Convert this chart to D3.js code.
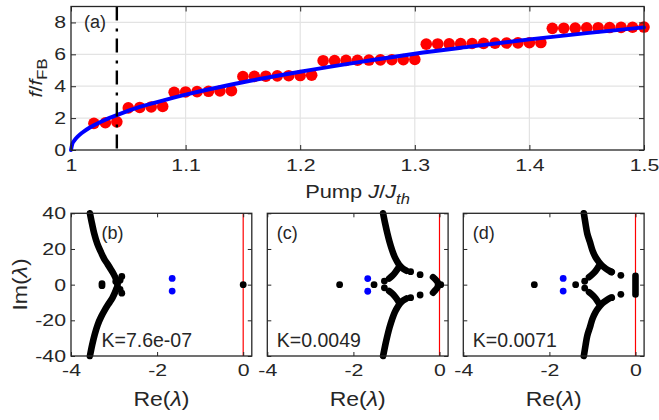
<!DOCTYPE html>
<html><head><meta charset="utf-8">
<script src="https://cdn.jsdelivr.net/npm/d3@7"></script>
<style>body{margin:0;background:#fff} text{font-family:"Liberation Sans",Arial,Helvetica,sans-serif;fill:#262626}</style>
</head><body><svg id="c" width="659" height="420"></svg>
<script>
// ---------- data: panel (a) ----------
const pumpJ = [1.02,1.03,1.04, 1.05,1.06,1.07,1.08, 1.09,1.10,1.11,1.12,1.13,1.14,
  1.15,1.16,1.17,1.18,1.19,1.20,1.21, 1.22,1.23,1.24,1.25,1.26,1.27,1.28,1.29,1.30,
  1.31,1.32,1.33,1.34,1.35,1.36,1.37,1.38,1.39,1.40,1.41, 1.42,1.43,1.44,1.45,1.46,1.47,1.48,1.49,1.50];
const ratioRed = [1.67,1.71,1.77, 2.64,2.67,2.70,2.73, 3.62,3.64,3.66,3.68,3.70,3.72,
  4.61,4.62,4.63,4.65,4.66,4.67,4.69, 5.60,5.61,5.62,5.63,5.64,5.65,5.66,5.67,5.68,
  6.64,6.65,6.66,6.67,6.68,6.69,6.70,6.71,6.72,6.73,6.74, 7.63,7.64,7.65,7.66,7.67,7.68,7.69,7.70,7.71];
const fitJ = [1.0,1.001,1.003,1.006,1.01,1.02,1.03,1.04,1.06,1.08,1.10,1.15,1.20,1.25,1.30,1.35,1.40,1.45,1.50];
const fitRatio = [0,0.35,0.6,0.85,1.1,1.55,1.9,2.19,2.7,3.1,3.47,4.25,4.91,5.5,6.04,6.5,6.94,7.33,7.69];
const markerJ = 1.04;
const pumpTicks = [1,1.1,1.2,1.3,1.4,1.5];
const pumpTickLabels = ["1","1.1","1.2","1.3","1.4","1.5"];
const ratioTicks = [0,2,4,6,8];

// ---------- data: eigenvalue panels (b),(c),(d) ----------
const reTicks = [-4,-2,0];
const reTickLabels = ["-4","-2","0"];
const imTicks = [-40,-20,0,20,40];
const imTickLabels = ["-40","-20","0","20","40"];
const panelNames = ["(b)","(c)","(d)"];
const kLabels = ["K=7.6e-07","K=0.0049","K=0.0071"];

const bBranches = [
  [[-3.56,40],[-3.51,34],[-3.46,28.6],[-3.39,23],[-3.31,18.5],[-3.23,14.5],[-3.15,11.5],[-3.08,8.8],[-3.01,6],[-2.96,3.5]],
  [[-2.94,-2],[-2.98,-4.5],[-3.04,-7.5],[-3.12,-10.5],[-3.21,-14],[-3.30,-18],[-3.38,-22.5],[-3.45,-28],[-3.51,-34],[-3.56,-40]]
];
const bBlobs = [];
const bDots = [[-3.28,0.6],[-3.28,-0.6],[-2.82,4.6],[-2.86,2.4],[-2.92,0.9],[-2.96,1.8],[-2.82,-4.8],[-2.86,-2.6],[-2.92,-0.7],[0.0,0]];
const bBlue = [[-1.65,3.5],[-1.65,-3.6]];

const cBranches = [
  [[-1.31,40],[-1.26,34],[-1.21,28.7],[-1.16,24],[-1.10,19.3],[-1.04,15.5],[-0.98,12.8],[-0.92,10.6],[-0.85,9],[-0.77,7.8]],
  [[-0.95,9.5],[-1.03,6.8],[-1.10,4.9],[-1.17,3.4]],
  [[-1.31,-40],[-1.26,-34],[-1.21,-28.7],[-1.16,-24],[-1.10,-19.3],[-1.04,-15.5],[-0.98,-12.8],[-0.92,-10.6],[-0.85,-9],[-0.77,-7.8]],
  [[-0.95,-9.5],[-1.03,-6.8],[-1.10,-4.9],[-1.17,-3.6]]
];
const cBlobs = [[[-0.15,4.2],[-0.09,2.8],[-0.04,1.2],[-0.04,-1.2],[-0.09,-2.9],[-0.15,-4.5]]];
const cDots = [[-2.32,0],[-1.52,0],[-1.28,2.0],[-1.28,-1.8],[-0.45,5.6],[-0.45,-5.8],[-0.67,7.3],[-0.67,-7.3],[0.03,0]];
const cBlue = [[-1.667,3.4],[-1.667,-3.7]];

const dBranches = [
  [[-1.20,40],[-1.16,34],[-1.12,28.6],[-1.06,24],[-1.00,19.2],[-0.93,15.5],[-0.85,12.7],[-0.77,10.5],[-0.69,9.0],[-0.61,7.8],[-0.55,7.1]],
  [[-0.85,10.5],[-0.93,7.6],[-1.01,5.6],[-1.08,4.2]],
  [[-1.20,-40],[-1.16,-34],[-1.12,-28.6],[-1.06,-24],[-1.00,-19.2],[-0.93,-15.5],[-0.85,-12.7],[-0.77,-10.5],[-0.69,-9.0],[-0.61,-7.8],[-0.55,-7.3]],
  [[-0.85,-10.5],[-0.93,-7.6],[-1.01,-5.6],[-1.08,-4.2]]
];
const dBlobs = [[[0,5],[0,-5.5]]];
const dDots = [[-2.35,0],[-1.39,0],[-1.18,1.9],[-1.18,-1.9],[-0.34,5.2],[-0.34,-5.4],[-0.56,7.1],[-0.56,-7.3]];
const dBlue = [[-1.68,3.5],[-1.68,-3.6]];

const panels = [
  {branches:bBranches, blobs:bBlobs, dots:bDots, blue:bBlue},
  {branches:cBranches, blobs:cBlobs, dots:cDots, blue:cBlue},
  {branches:dBranches, blobs:dBlobs, dots:dDots, blue:dBlue}
];

// ---------- drawing ----------
const svg = d3.select("#c");
const AX = "#262626";
const STRX = 1.25;   // tick label horizontal stretch
const LSTR = 1.18;   // axis title horizontal stretch

function boxAxes(g, x, y, xt, xl, yt, yl, opt){
  const [xa,xb] = x.range(), [ya,yb] = y.range();
  const tl = opt.tick;
  const fx = (d)=> xl ? xl[xt.indexOf(d)] : "";
  const fy = (d)=> yl ? yl[yt.indexOf(d)] : "";
  const ab = g.append("g").attr("transform",`translate(0,${ya})`)
    .call(d3.axisBottom(x).tickValues(xt).tickSizeInner(-tl).tickSizeOuter(0).tickPadding(opt.xpad).tickFormat(fx));
  const at = g.append("g").attr("transform",`translate(0,${yb})`)
    .call(d3.axisTop(x).tickValues(xt).tickSizeInner(-tl).tickSizeOuter(0).tickFormat(""));
  const al = g.append("g").attr("transform",`translate(${xa},0)`)
    .call(d3.axisLeft(y).tickValues(yt).tickSizeInner(-tl).tickSizeOuter(0).tickPadding(opt.ypad).tickFormat(fy));
  const ar = g.append("g").attr("transform",`translate(${xb},0)`)
    .call(d3.axisRight(y).tickValues(yt).tickSizeInner(-tl).tickSizeOuter(0).tickFormat(""));
  [ab,at,al,ar].forEach(a=>{
    a.select(".domain").remove();
    a.selectAll("line").attr("stroke",AX).attr("stroke-width",1);
    a.selectAll("text").attr("fill",AX).attr("font-size",opt.fs)
      .attr("font-family",'"Liberation Sans",Arial,sans-serif')
      .attr("transform",`scale(${STRX},1)`);
  });
  return g;
}

// ===== panel (a) =====
const xa = d3.scaleLinear().domain([1,1.5]).range([71,644]);
const ya = d3.scaleLinear().domain([0,9]).range([150,6.5]);
const ga = svg.append("g");
// grid
ga.append("g").selectAll("line").data(pumpTicks.slice(1,-1)).join("line")
  .attr("x1",d=>xa(d)).attr("x2",d=>xa(d)).attr("y1",ya(9)).attr("y2",ya(0))
  .attr("stroke","#e3e3e3").attr("stroke-width",1.2);
ga.append("g").selectAll("line").data(ratioTicks.slice(1)).join("line")
  .attr("x1",xa(1)).attr("x2",xa(1.5)).attr("y1",d=>ya(d)).attr("y2",d=>ya(d))
  .attr("stroke","#e3e3e3").attr("stroke-width",1.2);
// red dots
ga.append("g").selectAll("circle").data(pumpJ).join("circle")
  .attr("cx",d=>xa(d)).attr("cy",(d,i)=>ya(ratioRed[i])).attr("r",5.8).attr("fill","#ff0000");
// blue fit
ga.append("path").datum(fitJ.map((d,i)=>[d,fitRatio[i]]))
  .attr("d",d3.line().x(d=>xa(d[0])).y(d=>ya(d[1])).curve(d3.curveMonotoneX))
  .attr("fill","none").attr("stroke","#0000ff").attr("stroke-width",3.9).attr("stroke-linecap","round");
// dash-dot marker
ga.append("line").attr("x1",xa(markerJ)).attr("x2",xa(markerJ)).attr("y1",ya(9)).attr("y2",ya(0))
  .attr("stroke","#000").attr("stroke-width",2.4).attr("stroke-dasharray","14,8,3,7");
boxAxes(ga, xa, ya, pumpTicks, pumpTickLabels, ratioTicks, ratioTicks.map(String), {tick:5, xpad:9, ypad:4, fs:17});
ga.append("rect").attr("x",71).attr("y",ya(9)).attr("width",573).attr("height",ya(0)-ya(9))
  .attr("fill","none").attr("stroke",AX).attr("stroke-width",1.3);
ga.append("text").attr("x",84).attr("y",28).attr("font-size",18).text("(a)");
// y label
const yl = ga.append("text").attr("transform",`translate(42,78) rotate(-90) scale(${LSTR},1)`).attr("text-anchor","middle").attr("font-size",18);
yl.append("tspan").attr("font-style","italic").text("f");
yl.append("tspan").text("/");
yl.append("tspan").attr("font-style","italic").text("f");
yl.append("tspan").attr("font-size",14).attr("dy",5).text("FB");
// x label
const xlab = ga.append("text").attr("transform",`translate(357.5,198) scale(${LSTR},1)`).attr("text-anchor","middle").attr("font-size",18.5);
xlab.append("tspan").text("Pump ");
xlab.append("tspan").attr("font-style","italic").text("J");
xlab.append("tspan").text("/");
xlab.append("tspan").attr("font-style","italic").text("J");
xlab.append("tspan").attr("font-style","italic").attr("font-size",14).attr("dy",6).text("th");

// ===== panels (b),(c),(d) =====
const lefts = [71,267.3,463.3];
const pw = 180.8;
const yb = d3.scaleLinear().domain([-40,40]).range([356,213.3]);
const lineGen = (x)=> d3.line().x(d=>x(d[0])).y(d=>yb(d[1])).curve(d3.curveCatmullRom);
panels.forEach((p,i)=>{
  const x = d3.scaleLinear().domain([-4,0.2]).range([lefts[i], lefts[i]+pw]);
  const g = svg.append("g");
  g.append("line").attr("x1",x(0)).attr("x2",x(0)).attr("y1",yb(40)).attr("y2",yb(-40))
    .attr("stroke","#ff0000").attr("stroke-width",1.2);
  g.append("g").selectAll("path").data(p.branches.concat(p.blobs)).join("path")
    .attr("d",lineGen(x)).attr("fill","none").attr("stroke","#000").attr("stroke-width",6.6)
    .attr("stroke-linecap","round").attr("stroke-linejoin","round");
  g.append("g").selectAll("circle").data(p.dots).join("circle")
    .attr("cx",d=>x(d[0])).attr("cy",d=>yb(d[1])).attr("r",3.4).attr("fill","#000");
  g.append("g").selectAll("circle").data(p.blue).join("circle")
    .attr("cx",d=>x(d[0])).attr("cy",d=>yb(d[1])).attr("r",3.4).attr("fill","#0000ff");
  boxAxes(g, x, yb, reTicks, reTickLabels, imTicks, i===0 ? imTickLabels : null, {tick:4, xpad:8, ypad:4, fs:17});
  g.append("rect").attr("x",lefts[i]).attr("y",yb(40)).attr("width",pw).attr("height",yb(-40)-yb(40))
    .attr("fill","none").attr("stroke",AX).attr("stroke-width",1.3);
  g.append("text").attr("x", i===0 ? lefts[i]+30.5 : lefts[i]+9.5).attr("y",239).attr("font-size",18).text(panelNames[i]);
  g.append("text").attr("x", i===0 ? lefts[i]+30.5 : lefts[i]+9.5).attr("y",346.5).attr("font-size",19.5).text(kLabels[i]);
  const rl = g.append("text").attr("transform",`translate(${lefts[i]+pw/2},406) scale(${LSTR},1)`).attr("text-anchor","middle").attr("font-size",19.5);
  rl.append("tspan").text("Re(");
  rl.append("tspan").attr("font-style","italic").text("λ");
  rl.append("tspan").text(")");
});
const il = svg.append("text").attr("transform",`translate(27,284.5) rotate(-90) scale(${LSTR},1)`).attr("text-anchor","middle").attr("font-size",19.5);
il.append("tspan").text("Im(");
il.append("tspan").attr("font-style","italic").text("λ");
il.append("tspan").text(")");
</script></body></html>
